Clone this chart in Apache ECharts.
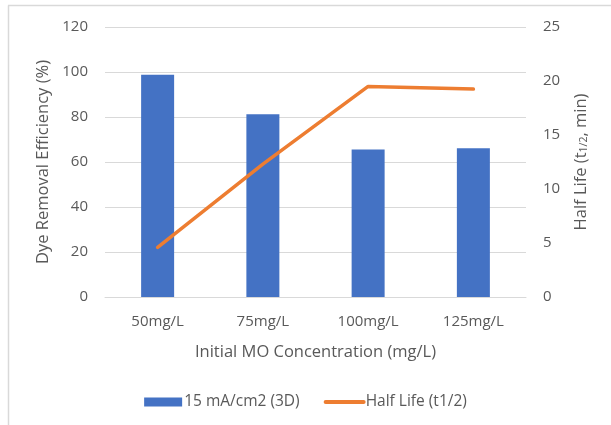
<!DOCTYPE html>
<html>
<head>
<meta charset="utf-8">
<script src="https://cdn.jsdelivr.net/npm/echarts@6/dist/echarts.min.js"></script>
<style>html,body{margin:0;padding:0;background:#fff;}#c{width:611px;height:425px;}</style>
</head>
<body>
<div id="c"></div>
<script>
var categories = ['50mg/L', '75mg/L', '100mg/L', '125mg/L'];
var efficiency = [98.8, 81.2, 65.6, 66.1];
var halfLife = [4.6, 12.3, 19.5, 19.25];
var leftTicks = {min: 0, max: 120, interval: 20};
var rightTicks = {min: 0, max: 25, interval: 5};

var FONT = '"Open Sans", sans-serif';
var TXT = '#595959';
var chart = echarts.init(document.getElementById('c'), null, {renderer: 'canvas'});
chart.setOption({
  animation: false,
  textStyle: {fontFamily: FONT, color: TXT},
  grid: {left: 105, right: 85, top: 27, bottom: 128, containLabel: false},
  graphic: [
    {type: 'line', shape: {x1: 8.5, y1: 5.5, x2: 8.5, y2: 425}, style: {stroke: '#d9d9d9', lineWidth: 1.5}},
    {type: 'line', shape: {x1: 8, y1: 5.5, x2: 611, y2: 5.5}, style: {stroke: '#d9d9d9', lineWidth: 1.5}}
  ],
  legend: {
    top: 389, left: 'center',
    itemWidth: 38, itemHeight: 9, itemGap: 24,
    textStyle: {fontFamily: FONT, fontSize: 15.5, color: TXT, padding: [0, 0, 0, -3]},
    data: [
      {name: '15 mA/cm2 (3D)', icon: 'rect'},
      {name: 'Half Life (t1/2)', itemStyle: {opacity: 0}, lineStyle: {width: 4, color: '#ED7D31', cap: 'round'}}
    ]
  },
  xAxis: {
    type: 'category', data: categories,
    axisLine: {show: true, lineStyle: {color: '#d9d9d9', width: 1}},
    axisTick: {show: false},
    axisLabel: {fontFamily: FONT, fontSize: 15, color: TXT, margin: 17},
    name: 'Initial MO Concentration (mg/L)', nameLocation: 'middle', nameGap: 47,
    nameTextStyle: {fontFamily: FONT, fontSize: 16.5, color: TXT}
  },
  yAxis: [
    {
      type: 'value', min: leftTicks.min, max: leftTicks.max, interval: leftTicks.interval,
      axisLine: {show: false}, axisTick: {show: false},
      splitLine: {lineStyle: {color: '#d9d9d9', width: 1}},
      axisLabel: {fontFamily: FONT, fontSize: 15, color: TXT, margin: 17},
      name: 'Dye Removal Efficiency (%)', nameLocation: 'middle', nameGap: 47,
      nameTextStyle: {fontFamily: FONT, fontSize: 16.5, color: TXT}
    },
    {
      type: 'value', min: rightTicks.min, max: rightTicks.max, interval: rightTicks.interval,
      axisLine: {show: false}, axisTick: {show: false},
      splitLine: {show: false},
      axisLabel: {fontFamily: FONT, fontSize: 15, color: TXT, margin: 17},
      name: 'Half Life (t{sub|1/2}, min)', nameLocation: 'middle', nameGap: 47, nameRotate: 90,
      nameTextStyle: {fontFamily: FONT, fontSize: 16.5, color: TXT,
        rich: {sub: {fontFamily: FONT, fontSize: 10.5, color: TXT, verticalAlign: 'bottom', padding: [6, 0, 0, 0]}}}
    }
  ],
  series: [
    {
      name: '15 mA/cm2 (3D)', type: 'bar', data: efficiency, yAxisIndex: 0,
      barWidth: 33, itemStyle: {color: '#4472C4'}
    },
    {
      name: 'Half Life (t1/2)', type: 'line', data: halfLife, yAxisIndex: 1,
      symbol: 'none', lineStyle: {color: '#ED7D31', width: 3.5, cap: 'round', join: 'round'},
      itemStyle: {color: '#ED7D31'}
    }
  ]
});
</script>
</body>
</html>
